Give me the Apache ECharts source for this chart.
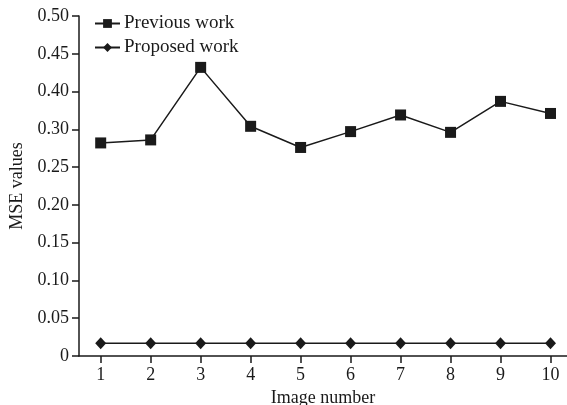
<!DOCTYPE html>
<html>
<head>
<meta charset="utf-8">
<script src="https://cdn.jsdelivr.net/npm/echarts@6/dist/echarts.min.js"></script>
<style>
  html, body { margin: 0; padding: 0; background: #fff; }
  #chart { width: 567px; height: 405px; }
</style>
</head>
<body>
<div id="chart"></div>
<script>
// Image indices along the x axis
const imageNumbers = [1, 2, 3, 4, 5, 6, 7, 8, 9, 10];
// MSE per image, in y-axis units
const previousWork = [0.282, 0.286, 0.382, 0.304, 0.276, 0.297, 0.319, 0.296, 0.337, 0.321];
const proposedWork = [0.017, 0.017, 0.017, 0.017, 0.017, 0.017, 0.017, 0.017, 0.017, 0.017];
// Printed labels for the y-axis ticks, bottom to top
const yTickLabels = ['0', '0.05', '0.10', '0.15', '0.20', '0.25', '0.30', '0.40', '0.45', '0.50'];

const FONT = '"Liberation Serif", "DejaVu Serif", serif';
const INK = '#1a1a1a';

const chart = echarts.init(document.getElementById('chart'), null, { renderer: 'canvas' });

const pairs = (ys) => imageNumbers.map((x, i) => [x, ys[i]]);

chart.setOption({
  animation: false,
  backgroundColor: '#ffffff',
  textStyle: { fontFamily: FONT, color: INK },
  grid: { left: 79, right: 0, top: 16, bottom: 49, containLabel: false, outerBoundsMode: 'none' },
  legend: {
    orient: 'vertical',
    left: 89,
    top: 9,
    itemWidth: 25,
    itemHeight: 11,
    itemGap: 5,
    textStyle: { fontFamily: FONT, fontSize: 19, color: INK, padding: [0, 0, 0, -1] },
    data: ['Previous work', 'Proposed work']
  },
  xAxis: {
    type: 'value',
    min: 0.566,
    max: 10.33,
    name: 'Image number',
    nameLocation: 'middle',
    nameGap: 28,
    nameTextStyle: { fontFamily: FONT, fontSize: 18, color: INK },
    axisLine: { show: true, lineStyle: { color: INK, width: 1.5 } },
    axisTick: { show: true, inside: false, length: 7, customValues: imageNumbers, lineStyle: { color: INK, width: 1.5 } },
    axisLabel: { customValues: imageNumbers, fontFamily: FONT, fontSize: 18, color: INK, margin: 10 },
    splitLine: { show: false }
  },
  yAxis: {
    type: 'value',
    min: 0,
    max: 0.45,
    interval: 0.05,
    name: 'MSE values',
    nameLocation: 'middle',
    nameGap: 47,
    nameTextStyle: { fontFamily: FONT, fontSize: 18, color: INK },
    axisLine: { show: true, lineStyle: { color: INK, width: 1.5 } },
    axisTick: { show: true, inside: false, length: 7, lineStyle: { color: INK, width: 1.5 } },
    axisLabel: {
      fontFamily: FONT, fontSize: 18, color: INK, margin: 10,
      formatter: (v) => yTickLabels[Math.round(v / 0.05)] ?? ''
    },
    splitLine: { show: false }
  },
  series: [
    {
      name: 'Previous work',
      type: 'line',
      data: pairs(previousWork),
      symbol: 'rect',
      symbolSize: 11,
      lineStyle: { color: INK, width: 1.5 },
      itemStyle: { color: INK, borderWidth: 0 }
    },
    {
      name: 'Proposed work',
      type: 'line',
      data: pairs(proposedWork),
      symbol: 'diamond',
      symbolSize: [11, 12],
      lineStyle: { color: INK, width: 1.5 },
      itemStyle: { color: INK, borderWidth: 0 }
    }
  ]
});
</script>
</body>
</html>
